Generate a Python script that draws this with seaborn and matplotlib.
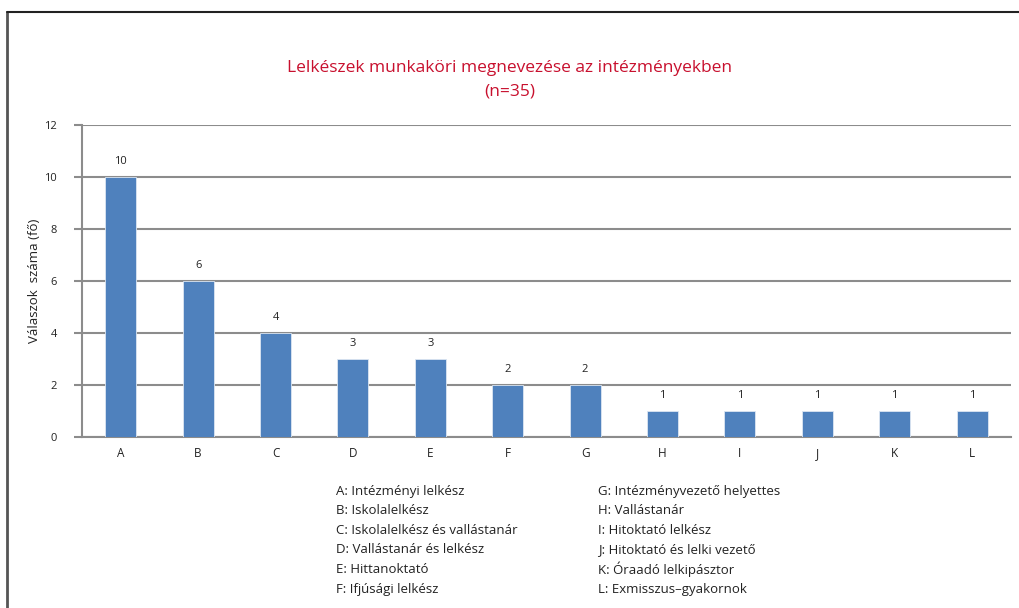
import matplotlib
matplotlib.use("Agg")
import matplotlib.pyplot as plt
import seaborn as sns
import pandas as pd
from matplotlib.lines import Line2D

categories = ["A", "B", "C", "D", "E", "F", "G", "H", "I", "J", "K", "L"]
values = [10, 6, 4, 3, 3, 2, 2, 1, 1, 1, 1, 1]
descriptions = [
    "Intézményi lelkész",
    "Iskolalelkész",
    "Iskolalelkész és vallástanár",
    "Vallástanár és lelkész",
    "Hittanoktató",
    "Ifjúsági lelkész",
    "Intézményvezető helyettes",
    "Vallástanár",
    "Hitoktató lelkész",
    "Hitoktató és lelki vezető",
    "Óraadó lelkipásztor",
    "Exmisszus–gyakornok",
]
title = "Lelkészek munkaköri megnevezése az intézményekben\n(n=35)"
ylabel = "Válaszok  száma (fő)"

sns.set_theme(style="white")
plt.rcParams["font.family"] = ["Open Sans", "DejaVu Sans"]

df = pd.DataFrame({"cat": categories, "val": values})

fig = plt.figure(figsize=(10.2, 6.08), dpi=100)
ax = fig.add_axes([0.0804, 0.2812, 0.991 - 0.0804, 0.7944 - 0.2812])

sns.barplot(data=df, x="cat", y="val", color="#4F81BD", saturation=1,
            width=0.4, edgecolor="#DCE6F2", linewidth=0.6, ax=ax, zorder=3)

ax.set_ylim(0, 12)
ax.set_yticks(range(0, 13, 2))
ax.set_xlim(-0.5, len(categories) - 0.5)
ax.yaxis.grid(True, color="#8C8C8C", linewidth=1.5, zorder=0)
ax.set_axisbelow(True)
for s in ["top", "right"]:
    ax.spines[s].set_visible(False)
ax.spines["left"].set_color("#8C8C8C")
ax.spines["left"].set_linewidth(1.5)
ax.spines["bottom"].set_color("#8C8C8C")
ax.spines["bottom"].set_linewidth(1.5)
ax.tick_params(axis="y", which="both", left=True, length=6, width=1.5,
               color="#8C8C8C", labelsize=8, pad=12, labelcolor="#222222")
ax.tick_params(axis="x", bottom=False, labelsize=8.5, pad=1, labelcolor="#222222")
ax.set_xlabel("")
ax.set_ylabel(ylabel, fontsize=9.5, color="#222222", labelpad=2)

for i, v in enumerate(values):
    ax.annotate(str(v), (i, v), xytext=(0, 7), textcoords="offset points",
                ha="center", va="bottom", fontsize=8, color="#222222")

fig.text(0.5, 1 - 80 / 608, title, ha="center", va="center", fontsize=12.5,
         color="#C8102E", linespacing=1.65)

# description key
row_y0 = 1 - 491 / 608
row_dy = 19.6 / 608
for k, (c, d) in enumerate(zip(categories, descriptions)):
    col = k // 6
    row = k % 6
    x = (336 if col == 0 else 598) / 1020
    fig.text(x, row_y0 - row * row_dy, f"{c}: {d}", ha="left", va="center",
             fontsize=9.5, color="#222222")

# frame lines
fig.add_artist(Line2D([7.5 / 1020, 7.5 / 1020], [0, 1 - 12 / 608],
                      transform=fig.transFigure, color="#555555", linewidth=2))
fig.add_artist(Line2D([7.5 / 1020, 1], [1 - 12 / 608, 1 - 12 / 608],
                      transform=fig.transFigure, color="#222222", linewidth=1.5))

fig.savefig("out.png", dpi=100)
